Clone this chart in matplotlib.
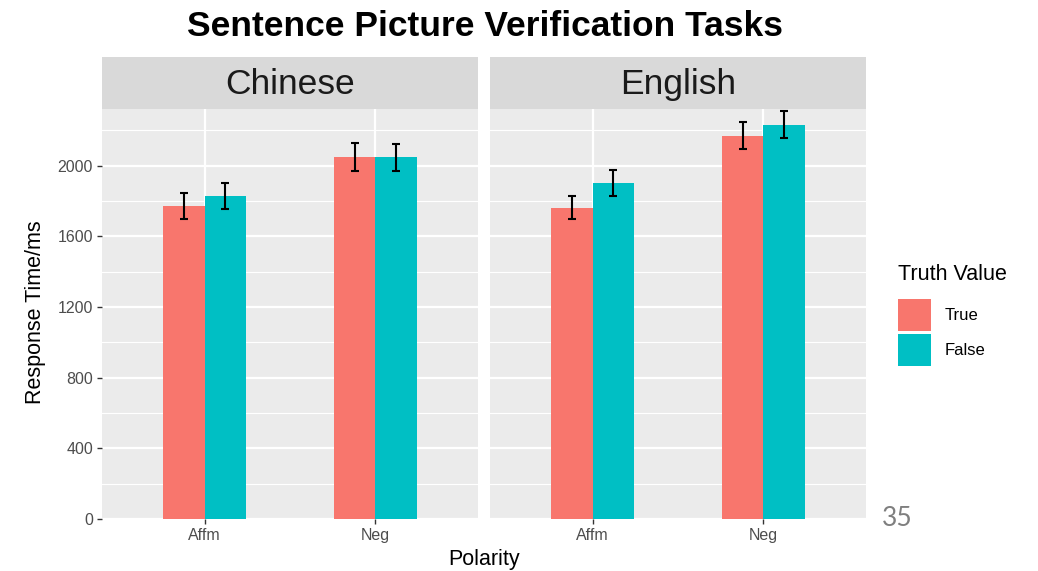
import matplotlib
matplotlib.use("Agg")
import matplotlib.pyplot as plt
import numpy as np
from matplotlib.patches import Patch

plt.rcParams['font.family'] = ['Liberation Sans', 'DejaVu Sans']

# Data: mean response times with error margins
languages = ["Chinese", "English"]
polarity = ["Affm", "Neg"]
truth_levels = ["True", "False"]

rt_true = {"Chinese": [1770, 2050], "English": [1762, 2170]}
rt_false = {"Chinese": [1830, 2048], "English": [1900, 2232]}
err_true = {"Chinese": [75, 80], "English": [65, 79]}
err_false = {"Chinese": [74, 76], "English": [73, 74]}

yticks = [0, 400, 800, 1200, 1600, 2000]
yminor = [200, 600, 1000, 1400, 1800, 2200]

colors = {"True": "#F8766D", "False": "#00BFC4"}
panel_bg = "#EBEBEB"
strip_bg = "#D9D9D9"

W, H = 1038, 571
fig = plt.figure(figsize=(W / 100, H / 100), dpi=100)

panels = [(102, 478), (490, 866)]
p_top, p_bot = 109, 519
s_top = 57

bw = 0.245
x = np.arange(len(polarity)) + 1

for li, (lang, (x0, x1)) in enumerate(zip(languages, panels)):
    ax = fig.add_axes([x0 / W, 1 - p_bot / H, (x1 - x0) / W, (p_bot - p_top) / H])
    ax.set_facecolor(panel_bg)
    for sp in ax.spines.values():
        sp.set_visible(False)
    ax.set_xlim(0.4, 2.6)
    ax.set_ylim(0, 2320)
    ax.set_axisbelow(True)
    ax.set_yticks(yticks)
    ax.set_yticks(yminor, minor=True)
    ax.set_xticks(x)
    ax.set_xticklabels(polarity)
    ax.grid(which="major", color="white", linewidth=1.6)
    ax.grid(which="minor", axis="y", color="white", linewidth=0.8)
    ax.tick_params(which="minor", length=0)
    ax.tick_params(which="major", length=3.5, width=1.0, color="#333333",
                   labelsize=11.5, labelcolor="#4D4D4D", pad=3)
    if li > 0:
        ax.tick_params(axis="y", which="major", length=0, labelleft=False)

    ax.bar(x - bw / 2, rt_true[lang], width=bw, color=colors["True"], zorder=2)
    ax.bar(x + bw / 2, rt_false[lang], width=bw, color=colors["False"], zorder=2)
    ax.errorbar(x - bw / 2, rt_true[lang], yerr=err_true[lang], fmt="none",
                ecolor="black", elinewidth=1.5, capsize=3.2, capthick=1.5, zorder=3)
    ax.errorbar(x + bw / 2, rt_false[lang], yerr=err_false[lang], fmt="none",
                ecolor="black", elinewidth=1.5, capsize=3.2, capthick=1.5, zorder=3)

    # facet strip
    sax = fig.add_axes([x0 / W, 1 - p_top / H, (x1 - x0) / W, (p_top - s_top) / H])
    sax.set_facecolor(strip_bg)
    sax.set_xticks([])
    sax.set_yticks([])
    for sp in sax.spines.values():
        sp.set_visible(False)
    sax.text(0.5, 0.47, lang, ha="center", va="center", fontsize=25.5,
             color="#1A1A1A", transform=sax.transAxes)

fig.text(485 / W, 1 - 27 / H, "Sentence Picture Verification Tasks",
         ha="center", va="center", fontsize=25.5, fontweight="bold", color="black")
fig.text(484 / W, 1 - 560 / H, "Polarity", ha="center", va="center",
         fontsize=15.5, color="black")
fig.text(36 / W, 1 - 312 / H, "Response Time/ms", ha="center", va="center",
         rotation=90, fontsize=15.5, color="black")

handles = [Patch(facecolor=colors[t], edgecolor="none") for t in truth_levels]
leg = fig.legend(handles, truth_levels, loc="upper left",
                 bbox_to_anchor=(893 / W, 1 - 259 / H), frameon=False,
                 fontsize=12, title="Truth Value", title_fontsize=15.5,
                 handlelength=2.0, handleheight=2.58, labelspacing=0.18,
                 handletextpad=0.8, borderaxespad=0, borderpad=0.3)
leg._legend_box.align = "left"
leg._legend_box.sep = 10

fig.text(897 / W, 1 - 518 / H, "35", ha="center", va="center",
         fontsize=19, color="#7F7F7F", family=["Lato", "DejaVu Sans"])

fig.savefig("out.png", dpi=100)
